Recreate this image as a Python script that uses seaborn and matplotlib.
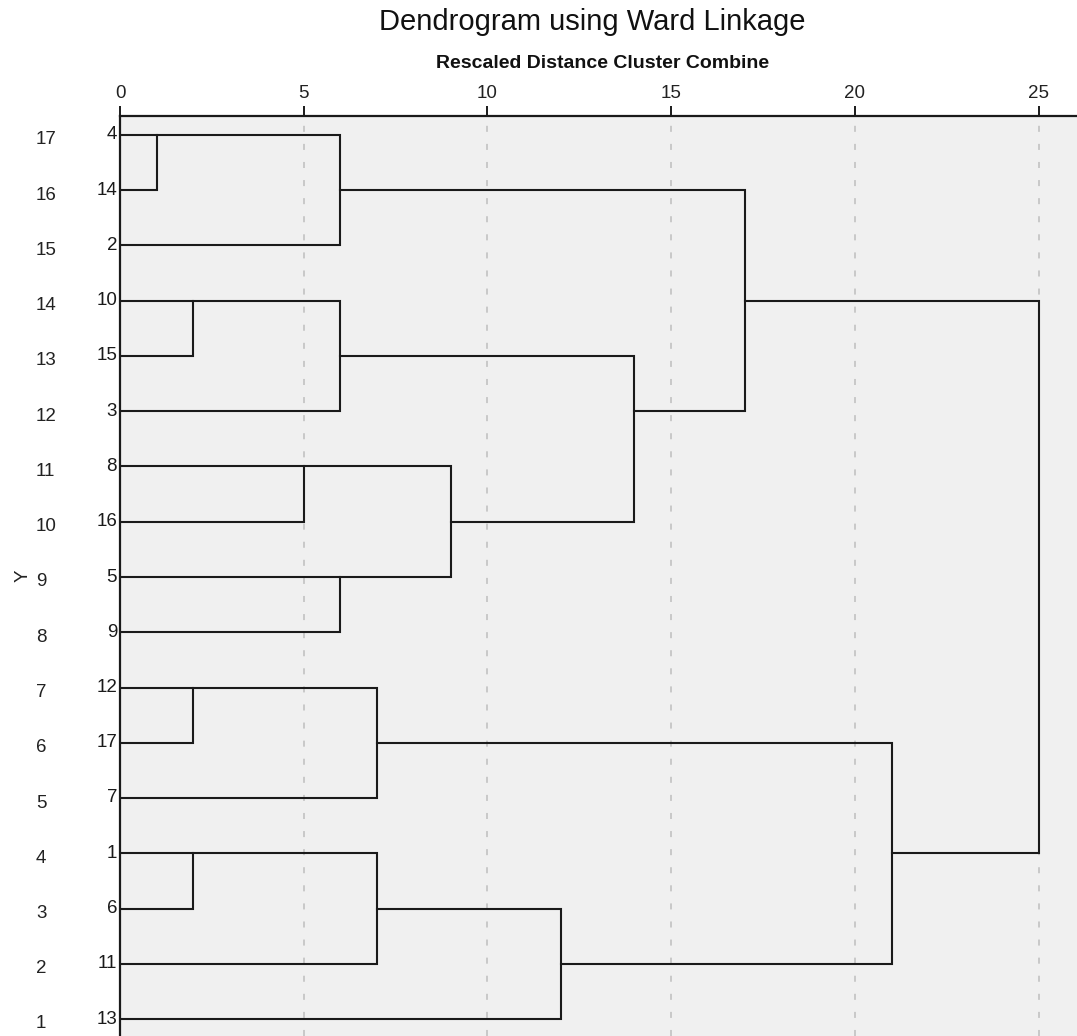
import numpy as np
import pandas as pd
import matplotlib
matplotlib.use("Agg")
import matplotlib.pyplot as plt
import seaborn as sns
from matplotlib.transforms import blended_transform_factory, ScaledTranslation

# ---------------- data ----------------
leaf_labels = ["4", "14", "2", "10", "15", "3", "8", "16", "5", "9",
               "12", "17", "7", "1", "6", "11", "13"]
case_positions = list(range(17, 0, -1))          # left-hand Y labels (top -> bottom)

# agglomeration steps: node a + node b merged at rescaled distance
# leaves are referenced by label, earlier merges as "c<k>"
merge_a = ["4", "c0", "10", "c2", "8", "5", "c4", "c3", "c1",
           "12", "c9", "1", "c11", "c12", "c10", "c8"]
merge_b = ["14", "2", "15", "3", "16", "9", "c5", "c6", "c7",
           "17", "7", "6", "11", "13", "c13", "c14"]
merge_dist = [1, 6, 2, 6, 5, 6, 9, 14, 17, 2, 7, 2, 7, 12, 21, 25]

x_ticks = [0, 5, 10, 15, 20, 25]

# ---------------- build dendrogram paths ----------------
n = len(leaf_labels)
row = {lab: i for i, lab in enumerate(leaf_labels)}   # row index, 0 = top
height = {lab: 0.0 for lab in leaf_labels}
rows = []
for k, (a, b, d) in enumerate(zip(merge_a, merge_b, merge_dist)):
    ya, yb = n - row[a], n - row[b]
    pts = [(height[a], ya), (d, ya), (d, yb), (height[b], yb)]
    for j, (px, py) in enumerate(pts):
        rows.append({"seg": k, "order": j, "x": px, "y": py})
    node = f"c{k}"
    row[node] = (row[a] + row[b]) // 2
    height[node] = d
df = pd.DataFrame(rows)

# ---------------- figure ----------------
sns.set_theme(style="white")
plt.rcParams["font.family"] = ["Liberation Sans", "DejaVu Sans"]

W, H = 1077, 1036
fig = plt.figure(figsize=(W / 100, H / 100), dpi=100)
ax = fig.add_axes([120 / W, 0, 957 / W, 920 / H])
ax.set_facecolor("#f0f0f0")

px_per_unit = (1038.5 - 120) / 25
row_px = (1019 - 135) / 16
ax.set_xlim(0, 957 / px_per_unit)
ax.set_ylim(1 - 17 / row_px, n + 19 / row_px)

ax.grid(axis="x", color="#c8c8c8", linestyle=(0, (3.1, 6.2)), linewidth=1.4)
ax.grid(axis="y", visible=False)
ax.set_axisbelow(True)

sns.lineplot(data=df, x="x", y="y", units="seg", estimator=None, sort=False,
             color="#1a1a1a", linewidth=1.5, ax=ax, legend=False,
             solid_joinstyle="miter", solid_capstyle="projecting")

# spines
for side in ["right", "bottom"]:
    ax.spines[side].set_visible(False)
for side in ["top", "left"]:
    ax.spines[side].set_visible(True)
    ax.spines[side].set_linewidth(1.6)
    ax.spines[side].set_color("#1a1a1a")
    ax.spines[side].set_zorder(5)

# x ticks on top
ax.xaxis.tick_top()
ax.set_xticks(x_ticks)
ax.set_xticklabels([str(t) for t in x_ticks])
ax.tick_params(axis="x", which="major", direction="out", length=7, width=1.4,
               color="#1a1a1a", labelsize=13.5, labelcolor="#222222", pad=3,
               top=True, bottom=False)
ax.set_xlabel("")

# y ticks: case positions, left aligned
ax.set_yticks(case_positions)
ax.set_yticklabels([str(p) for p in case_positions])
ax.tick_params(axis="y", length=0, labelsize=13.5, labelcolor="#222222", pad=60.5)
shift = ScaledTranslation(0, -3 / 100, fig.dpi_scale_trans)
for t in ax.get_yticklabels():
    t.set_horizontalalignment("left")
    t.set_transform(t.get_transform() + shift)

# leaf labels next to the axis
trans = blended_transform_factory(ax.transAxes, ax.transData)
for i, lab in enumerate(leaf_labels):
    ax.text(-3 / 957, n - i, lab, ha="right", va="center", fontsize=13.5,
            color="#1a1a1a", transform=trans)

ax.set_ylabel("Y", fontsize=13.5, color="#222222")
ax.yaxis.set_label_coords(-0.092, 0.5)

fig.text(592 / W, 1 - 22 / H, "Dendrogram using Ward Linkage", ha="center",
         va="center", fontsize=21, color="#111111")
fig.text(603 / W, 1 - 63 / H, "Rescaled Distance Cluster Combine", ha="center",
         va="center", fontsize=14, fontweight="bold", color="#111111")

fig.savefig("out.png", dpi=100)
